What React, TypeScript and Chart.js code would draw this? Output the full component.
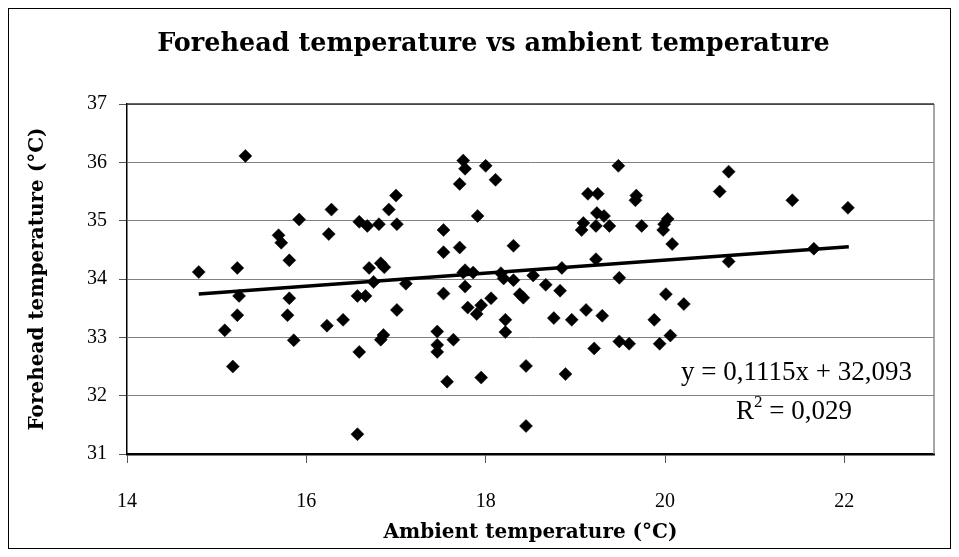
import React, { useEffect, useRef } from "react";
import { Chart, registerables } from "chart.js";

Chart.register(...registerables);

// ---- data ----
const ambientTemp: number[] = [
  14.8, 15.32, 15.23, 15.92, 15.69, 15.72, 15.81, 15.25, 15.23, 15.09,
  15.18, 15.81, 15.79, 15.86, 16.28, 16.25, 16.59, 16.68, 16.81, 16.92,
  17.0, 17.01, 16.7, 16.83, 16.87, 16.75, 17.11, 17.53, 17.53, 17.71,
  17.71, 17.75, 17.77, 18.0, 18.11, 17.91, 18.31, 17.75, 17.77, 17.86,
  18.17, 18.2, 18.31, 18.53, 17.77, 18.67, 18.85, 19.23, 19.49, 19.48,
  19.14, 19.25, 19.24, 19.32, 19.09, 19.07, 19.23, 19.38, 19.68, 19.67,
  19.74, 20.03, 19.99, 19.98, 20.08, 20.61, 20.71, 20.71, 21.42, 22.04,
  21.66, 16.57, 16.66, 16.23, 16.41, 17.01, 16.86, 16.83, 16.59, 16.57,
  17.53, 17.8, 17.95, 17.9, 18.06, 17.46, 17.46, 17.46, 17.64, 17.57,
  17.95, 18.22, 18.22, 18.38, 18.42, 18.45, 18.45, 18.83, 18.76, 18.96,
  19.12, 19.3, 19.21, 18.89, 19.49, 19.6, 19.88, 20.01, 20.21, 19.94,
  20.06,
];
const foreheadTemp: number[] = [
  34.12, 36.11, 34.19, 35.02, 34.75, 34.62, 34.32, 33.71, 33.38, 33.12,
  32.5, 33.67, 33.38, 32.95, 35.19, 34.77, 34.98, 34.91, 34.94, 35.19,
  35.43, 34.94, 34.19, 34.27, 34.2, 33.95, 33.92, 34.84, 34.46, 34.54,
  35.63, 36.03, 35.89, 35.94, 35.7, 35.08, 34.57, 34.11, 34.15, 34.11,
  34.1, 34.01, 33.98, 34.06, 33.87, 33.9, 34.19, 34.34, 34.02, 35.94,
  35.46, 35.46, 35.13, 35.08, 34.96, 34.84, 34.91, 34.91, 35.43, 35.35,
  34.91, 35.03, 34.94, 34.84, 34.6, 35.5, 35.84, 34.3, 35.35, 35.22,
  34.52, 33.71, 33.71, 33.2, 33.3, 33.47, 33.04, 32.96, 32.75, 31.34,
  33.75, 33.51, 33.55, 33.4, 33.67, 33.1, 32.87, 32.75, 32.96, 32.24,
  32.31, 33.3, 33.09, 33.74, 33.68, 32.51, 31.48, 33.8, 33.33, 33.3,
  33.47, 33.37, 32.81, 32.37, 32.93, 32.89, 33.3, 33.74, 33.57, 32.89,
  33.03,
];

// linear trendline as reported on the chart
const trendSlope = 0.1115;
const trendIntercept = 32.093;
const trendX: number[] = [14.8, 22.05];

const xTickValues: number[] = [14, 16, 18, 20, 22];
const yTickValues: number[] = [31, 32, 33, 34, 35, 36, 37];

const chartTitle = "Forehead temperature vs ambient temperature";
const xAxisTitle = "Ambient temperature (°C)";
const yAxisTitle = "Forehead temperature (°C)";
const equationText = "y = 0,1115x + 32,093";
const r2Prefix = "R";
const r2Sup = "2";
const r2Value = " = 0,029";

const SERIF = "'Liberation Serif', 'Times New Roman', serif";
const WIDE_SERIF = "'DejaVu Serif', 'Liberation Serif', serif";

export default function App() {
  const canvasRef = useRef<HTMLCanvasElement | null>(null);

  useEffect(() => {
    const canvas = canvasRef.current;
    if (!canvas) return;

    const points = ambientTemp.map((x, i) => ({ x, y: foreheadTemp[i] }));
    const trend = trendX.map((x) => ({ x, y: trendSlope * x + trendIntercept }));

    const decorPlugin = {
      id: "decor",
      beforeDatasetsDraw(chart: any) {
        const { ctx, chartArea } = chart;
        ctx.save();
        ctx.strokeStyle = "#8a8a8a";
        ctx.lineWidth = 1.5;
        ctx.beginPath();
        ctx.moveTo(chartArea.right, chartArea.top);
        ctx.lineTo(chartArea.right, chartArea.bottom);
        ctx.stroke();
        ctx.strokeStyle = "#333333";
        ctx.lineWidth = 1.5;
        ctx.beginPath();
        ctx.moveTo(chartArea.left, chartArea.top);
        ctx.lineTo(chartArea.right, chartArea.top);
        ctx.stroke();
        ctx.restore();
      },
      afterDraw(chart: any) {
        const { ctx, chartArea, width } = chart;
        const cx = (chartArea.left + chartArea.right) / 2;
        const cy = (chartArea.top + chartArea.bottom) / 2;
        ctx.save();
        ctx.fillStyle = "#000";
        ctx.textBaseline = "middle";
        // chart title
        ctx.font = `bold 25.5px ${WIDE_SERIF}`;
        ctx.textAlign = "center";
        ctx.fillText(chartTitle, width / 2 + 14, 35);
        // x axis title (centred on the plot area)
        ctx.font = `bold 20px ${WIDE_SERIF}`;
        ctx.fillText(xAxisTitle, cx, 524);
        // y axis title
        ctx.save();
        ctx.translate(29, cy);
        ctx.rotate(-Math.PI / 2);
        ctx.fillText(yAxisTitle, 0, 0);
        ctx.restore();
        // trendline equation
        ctx.font = `27px ${SERIF}`;
        ctx.textAlign = "right";
        ctx.fillText(equationText, chartArea.right - 22, chartArea.top + 269);
        // R^2
        const valW = ctx.measureText(r2Value).width;
        const rightR = chartArea.right - 82;
        ctx.fillText(r2Value, rightR, chartArea.top + 308);
        ctx.font = `17px ${SERIF}`;
        const supW = ctx.measureText(r2Sup).width;
        ctx.fillText(r2Sup, rightR - valW, chartArea.top + 299);
        ctx.font = `27px ${SERIF}`;
        ctx.fillText(r2Prefix, rightR - valW - supW, chartArea.top + 308);
        ctx.restore();
      },
    };

    const chart = new Chart(canvas, {
      type: "scatter",
      data: {
        datasets: [
          {
            label: "Trend",
            data: trend,
            showLine: true,
            borderColor: "#000",
            borderWidth: 3.5,
            pointRadius: 0,
            fill: false,
            order: 0,
          },
          {
            label: "Forehead temperature",
            data: points,
            pointStyle: "rectRot",
            pointRadius: 6.5,
            backgroundColor: "#000",
            borderColor: "#000",
            borderWidth: 0.5,
            order: 1,
          },
        ],
      },
      options: {
        responsive: false,
        animation: false,
        devicePixelRatio: 1,
        layout: { padding: { top: 95, right: 16, left: 0, bottom: 0 } },
        plugins: {
          legend: { display: false },
          tooltip: { enabled: false },
          title: { display: false },
        },
        scales: {
          x: {
            type: "linear",
            min: 14,
            max: 23,
            afterBuildTicks(scale: any) {
              scale.ticks = xTickValues.map((v) => ({ value: v }));
            },
            afterFit(scale: any) {
              scale.height = 94;
            },
            ticks: {
              includeBounds: false,
              padding: 27,
              color: "#000",
              font: { family: SERIF, size: 20 },
              callback: (v: any) => String(v),
            },
            grid: {
              drawOnChartArea: false,
              drawTicks: true,
              tickLength: 9,
              tickColor: "#555",
              tickWidth: 1,
            },
            border: { display: true, color: "#000", width: 2.5 },
            title: { display: false },
          },
          y: {
            type: "linear",
            min: 31,
            max: 37,
            afterBuildTicks(scale: any) {
              scale.ticks = yTickValues.map((v) => ({ value: v }));
            },
            afterFit(scale: any) {
              scale.width = 118;
            },
            ticks: {
              padding: 12,
              color: "#000",
              font: { family: SERIF, size: 20 },
              callback: (v: any) => String(v),
            },
            grid: {
              color: "#808080",
              lineWidth: 1,
              drawTicks: true,
              tickLength: 8,
              tickColor: "#555",
            },
            border: { display: true, color: "#000", width: 1.5 },
            title: { display: false },
          },
        },
      },
      plugins: [decorPlugin],
    } as any);

    return () => chart.destroy();
  }, []);

  return (
    <div
      style={{
        width: 943,
        height: 541,
        border: "1px solid #000",
        boxSizing: "border-box",
        background: "#fff",
      }}
    >
      <canvas ref={canvasRef} width={941} height={539} style={{ display: "block", width: 941, height: 539 }} />
    </div>
  );
}
